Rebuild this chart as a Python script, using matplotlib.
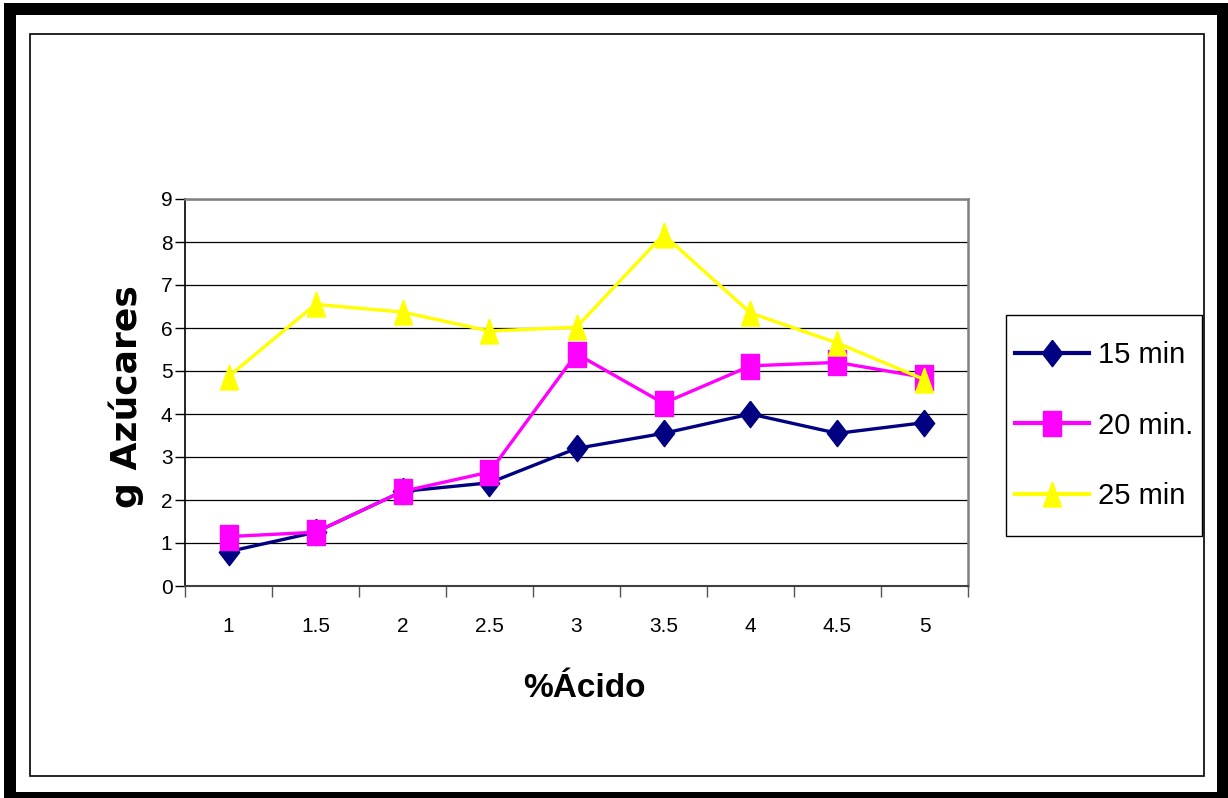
import numpy as np
import matplotlib
matplotlib.use("Agg")
import matplotlib.pyplot as plt
from matplotlib.patches import Rectangle

# % acid levels and sugar yield (g) for each hydrolysis time
acido = ["1", "1.5", "2", "2.5", "3", "3.5", "4", "4.5", "5"]
min15 = [0.80, 1.25, 2.20, 2.40, 3.20, 3.55, 4.00, 3.55, 3.80]
min20 = [1.15, 1.25, 2.20, 2.65, 5.40, 4.25, 5.12, 5.20, 4.85]
min25 = [4.87, 6.55, 6.37, 5.93, 6.02, 8.17, 6.35, 5.65, 4.80]
series_names = ["15 min", "20 min.", "25 min"]

W, H = 1228, 798
SANS = ["Liberation Sans", "DejaVu Sans"]

# Excel-like tall markers
diamond = [(0, 1), (0.77, 0), (0, -1), (-0.77, 0), (0, 1)]
square = [(-0.72, -1), (0.72, -1), (0.72, 1), (-0.72, 1), (-0.72, -1)]
triangle = [(0, 1), (0.72, -1), (-0.72, -1), (0, 1)]

fig = plt.figure(figsize=(W / 100, H / 100), dpi=100)

def fx(px):
    return px / W

def fy(py):
    return 1 - py / H

def frame(x0, y0, x1, y1, lw):
    fig.patches.append(Rectangle((fx(x0), fy(y1)), fx(x1) - fx(x0), fy(y0) - fy(y1),
                                 transform=fig.transFigure, fill=False,
                                 edgecolor="black", linewidth=lw))

# thick outer frame, thin chart-area frame, legend box
frame(10, 9, 1223, 798, 12 * 0.72)
frame(30, 34, 1204, 776, 1.2)
frame(1006, 315, 1202, 536, 1.0)

ax = fig.add_axes([fx(185), fy(586), fx(968) - fx(185), fy(199) - fy(586)])
x = np.arange(len(acido))

ax.plot(x, min15, color="#000080", linewidth=2.4, marker=diamond, markersize=19,
        label=series_names[0], zorder=3)
ax.plot(x, min20, color="#FF00FF", linewidth=2.4, marker=square, markersize=18,
        label=series_names[1], zorder=4)
ax.plot(x, min25, color="#FFFF00", linewidth=2.4, marker=triangle, markersize=18,
        label=series_names[2], zorder=5)

ax.set_xlim(-0.5, len(acido) - 0.5)
ax.set_ylim(0, 9)
ax.set_yticks(range(0, 10))
ax.yaxis.grid(True, color="black", linewidth=0.9)
ax.set_axisbelow(True)

# category labels centred, tick marks between categories
ax.set_xticks(x)
ax.set_xticklabels(acido, fontsize=15, family=SANS)
ax.set_xticks(np.arange(-0.5, len(acido)), minor=True)
ax.tick_params(axis="x", which="major", length=0, pad=22)
ax.tick_params(axis="x", which="minor", length=8, width=1, color="#555555", direction="out")
ax.tick_params(axis="y", length=7, width=1, direction="out", labelsize=15, pad=2)
for lab in ax.get_yticklabels():
    lab.set_family(SANS)

for side in ["top", "right"]:
    ax.spines[side].set_color("#808080")
    ax.spines[side].set_linewidth(1.8)
ax.spines["left"].set_color("black")
ax.spines["bottom"].set_color("#404040")
ax.spines["left"].set_linewidth(1.2)
ax.spines["bottom"].set_linewidth(1.5)

ax.set_ylabel("g Azúcares", fontsize=26, fontweight="bold", family="DejaVu Sans")
ax.yaxis.set_label_coords(-0.052, 0.49)
ax.set_xlabel("%Ácido", fontsize=24, fontweight="bold", family=SANS)
ax.xaxis.set_label_coords(0.51, -0.225)

leg = fig.legend(loc="center", bbox_to_anchor=(fx(1104), fy(425.5)),
                 prop={"family": SANS, "size": 21}, frameon=False,
                 handlelength=2.55, handletextpad=0.3,
                 labelspacing=1.45, borderpad=0, borderaxespad=0)
for line in leg.get_lines():
    line.set_linewidth(3.0)

fig.savefig("out.png", dpi=100, facecolor="white")
